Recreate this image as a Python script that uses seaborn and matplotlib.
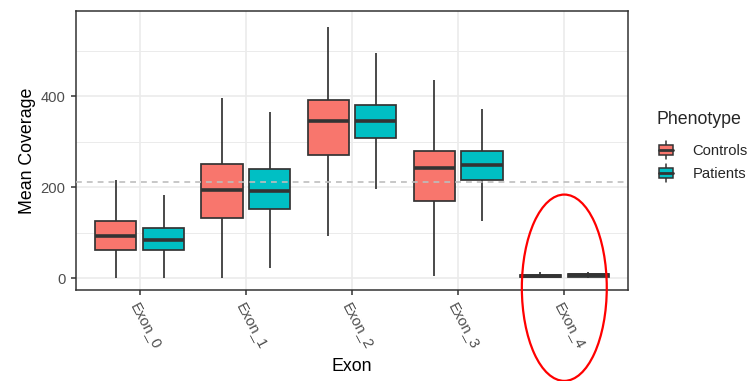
import numpy as np
import pandas as pd
import matplotlib
matplotlib.use("Agg")
import matplotlib.pyplot as plt
from matplotlib.patches import Rectangle, Ellipse
from matplotlib.lines import Line2D
from matplotlib.legend_handler import HandlerBase
from matplotlib.ticker import MultipleLocator
import seaborn as sns

# Per-box summary values (coverage), one entry per exon
exons = ["Exon_0", "Exon_1", "Exon_2", "Exon_3", "Exon_4"]
phenotypes = ["Controls", "Patients"]

ctrl_low = [0, 0, 92, 5, 0]
ctrl_q1 = [62, 132, 272, 170, 2]
ctrl_med = [92, 194, 345, 242, 5]
ctrl_q3 = [125, 252, 393, 279, 8]
ctrl_high = [217, 397, 552, 437, 14]

pat_low = [0, 23, 196, 125, 1]
pat_q1 = [63, 152, 308, 217, 3]
pat_med = [84, 191, 345, 248, 6]
pat_q3 = [110, 240, 382, 279, 9]
pat_high = [182, 366, 495, 372, 13]

threshold = 212

palette = {"Controls": "#F8766D", "Patients": "#00BFC4"}

# Long-form table: five points per box reproduce min/Q1/median/Q3/max
rows = []
for name, stats in [("Controls", (ctrl_low, ctrl_q1, ctrl_med, ctrl_q3, ctrl_high)),
                    ("Patients", (pat_low, pat_q1, pat_med, pat_q3, pat_high))]:
    for i, ex in enumerate(exons):
        for s in stats:
            rows.append({"Exon": ex, "Phenotype": name, "Coverage": s[i]})
df = pd.DataFrame(rows)

sns.set_style("white")
plt.rcParams["font.family"] = ["Liberation Sans", "DejaVu Sans"]

fig = plt.figure(figsize=(7.5, 3.81), dpi=100)
ax = fig.add_axes([76 / 750, 1 - 290 / 381, (628 - 76) / 750, (290 - 11) / 381])

edge = "#333333"
sns.boxplot(
    data=df, x="Exon", y="Coverage", hue="Phenotype",
    order=exons, hue_order=phenotypes, palette=palette,
    width=0.9, gap=0.14, whis=(0, 100), showfliers=False,
    linecolor=edge, linewidth=1.25, saturation=1,
    medianprops={"linewidth": 2.6, "color": edge},
    capprops={"visible": False},
    ax=ax, legend=True,
)

ax.axhline(threshold, color="#BDBDBD", lw=1.2, linestyle=(0, (3.5, 3)), zorder=10)

# Axes styling
ax.set_xlim(-0.6, 4.6)
ax.set_ylim(-26, 588)
ax.yaxis.set_major_locator(MultipleLocator(200))
ax.yaxis.set_minor_locator(MultipleLocator(100))
ax.set_axisbelow(True)
ax.grid(True, which="major", color="#EBEBEB", lw=1.2)
ax.grid(True, which="minor", axis="y", color="#EBEBEB", lw=0.7)
for sp in ax.spines.values():
    sp.set_visible(True)
    sp.set_color(edge)
    sp.set_linewidth(1.1)

ax.tick_params(axis="both", which="major", length=3.5, width=1.1, color=edge,
               labelcolor="#4D4D4D", labelsize=10.6, pad=4, left=True, bottom=True)
ax.tick_params(axis="y", which="minor", length=0)
ax.set_xticks(range(len(exons)))
ax.set_xticklabels(exons, rotation=-62, ha="left", va="top", rotation_mode="anchor")

ax.set_xlabel("Exon", fontsize=12.8, labelpad=5, color="black")
ax.set_ylabel("Mean Coverage", fontsize=12.8, labelpad=3, color="black")

# Highlight ring around the last exon
ax.add_patch(Ellipse((4, -21), 0.8, 410, fill=False, edgecolor="red", lw=1.6,
                     clip_on=False, zorder=20))


class BoxKey(HandlerBase):
    def create_artists(self, legend, orig_handle, xdescent, ydescent, width, height,
                       fontsize, trans):
        fc = orig_handle.get_facecolor()
        x0, y0 = -xdescent, -ydescent
        cx = x0 + width / 2
        cy = y0 + height / 2
        bw = 10.5
        bh = 7.5
        wh = 13.5
        whisk = Line2D([cx, cx], [cy - wh / 2, cy + wh / 2], color=edge, lw=1.1,
                       transform=trans)
        box = Rectangle((cx - bw / 2, cy - bh / 2), bw, bh,
                        facecolor=fc, edgecolor=edge, lw=1.1, transform=trans)
        med = Line2D([cx - bw / 2, cx + bw / 2], [cy, cy], color=edge,
                     lw=2.0, transform=trans)
        return [whisk, box, med]


handles, labels = ax.get_legend_handles_labels()
ax.get_legend().remove()

fig.text(657 / 750, 1 - 120 / 381, "Phenotype", fontsize=12.8, ha="left", va="center")
leg = fig.legend(
    handles, labels, loc="upper left",
    bbox_to_anchor=(657 / 750, 1 - 141 / 381), bbox_transform=fig.transFigure,
    frameon=False, fontsize=10.6,
    handlelength=1.2, handleheight=1.5, handletextpad=1.2, labelspacing=0.35,
    borderpad=0, borderaxespad=0,
    handler_map={type(h): BoxKey() for h in handles},
)

fig.savefig("out.png", dpi=100)
